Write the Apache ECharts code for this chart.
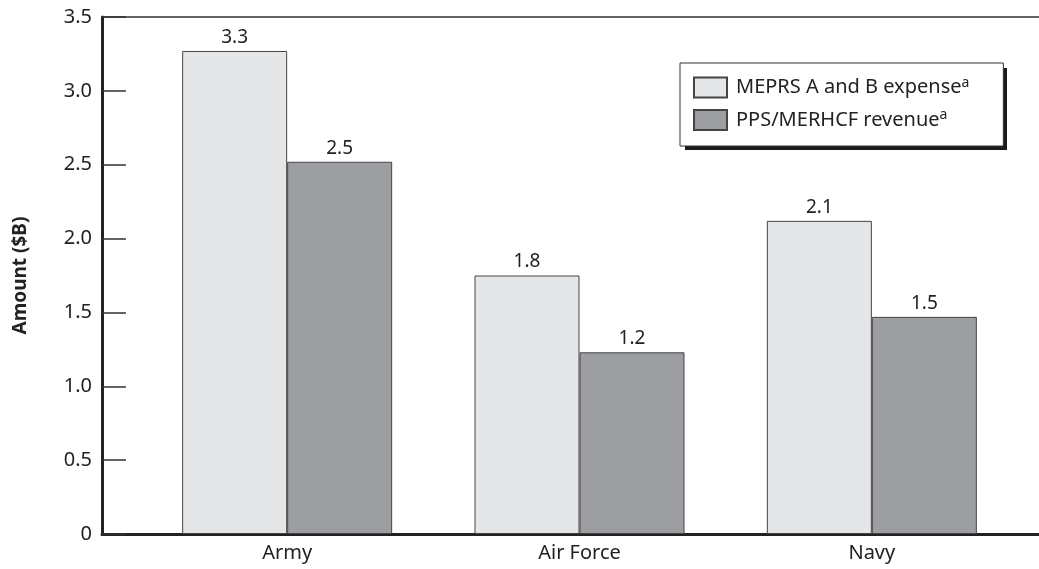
<!DOCTYPE html>
<html><head><meta charset="utf-8">
<script src="https://cdn.jsdelivr.net/npm/echarts@6/dist/echarts.min.js"></script>
<style>html,body{margin:0;padding:0;background:#fff}#c{width:1039px;height:569px}</style>
</head><body><div id="c"></div>
<script>
const categories = ['Army', 'Air Force', 'Navy'];
const expense = [3.27, 1.75, 2.12];
const revenue = [2.52, 1.23, 1.47];
const expenseLabels = ['3.3', '1.8', '2.1'];
const revenueLabels = ['2.5', '1.2', '1.5'];
const seriesNames = ['MEPRS A and B expense', 'PPS/MERHCF revenue'];

const FONT = '"Noto Sans", "Open Sans", sans-serif';
const chart = echarts.init(document.getElementById('c'));
const gridTop = 17, gridBottom = 35;
chart.setOption({
  animation: false,
  textStyle: { fontFamily: FONT },
  grid: [
    { left: 141, right: 21, top: gridTop, bottom: gridBottom, outerBoundsMode: 'none', containLabel: false },
    { left: 102, right: 0, top: gridTop, bottom: gridBottom, outerBoundsMode: 'none', containLabel: false }
  ],
  graphic: [
    { type: 'rect', z: 1, shape: { x: 685, y: 68, width: 322, height: 82 }, style: { fill: '#1a1a1a' } }
  ],
  legend: {
    orient: 'vertical', left: 680, top: 63,
    padding: [13, 34, 15, 13], itemGap: 10,
    itemWidth: 33, itemHeight: 20, icon: 'rect',
    backgroundColor: '#fff', borderColor: '#333', borderWidth: 1,
    textStyle: {
      fontFamily: FONT, fontSize: 20, color: '#222',
      rich: {
        n: { fontSize: 20, color: '#222', fontFamily: FONT, padding: [0, 0, 0, 4] },
        s: { fontSize: 14, color: '#222', verticalAlign: 'top', padding: [0, 0, 9, 0], fontFamily: FONT }
      }
    },
    formatter: n => '{n|' + n + '}{s|a}',
    data: seriesNames
  },
  xAxis: [
    { type: 'category', gridIndex: 0, data: categories,
      axisLine: { show: false }, axisTick: { show: false },
      axisLabel: { fontSize: 20, color: '#222', margin: 9, fontFamily: FONT } },
    { type: 'value', gridIndex: 1, position: 'bottom', min: 0, max: 1,
      axisLine: { show: true, lineStyle: { color: '#222', width: 3 } },
      axisTick: { show: false }, axisLabel: { show: false }, splitLine: { show: false } },
    { type: 'value', gridIndex: 1, position: 'top', min: 0, max: 1,
      axisLine: { show: true, lineStyle: { color: '#333', width: 1.5 } },
      axisTick: { show: false }, axisLabel: { show: false }, splitLine: { show: false } }
  ],
  yAxis: [
    { type: 'value', gridIndex: 0, min: 0, max: 3.5, interval: 0.5, show: false },
    { type: 'value', gridIndex: 1, min: 0, max: 3.5, interval: 0.5,
      name: 'Amount ($B)', nameLocation: 'middle', nameGap: 72, nameRotate: 90,
      nameTextStyle: { fontSize: 19, fontWeight: 'bold', color: '#222', fontFamily: FONT },
      axisLine: { show: true, lineStyle: { color: '#222', width: 3 } },
      axisTick: { show: true, inside: true, length: 24, lineStyle: { color: '#333', width: 1.5 } },
      axisLabel: { fontSize: 20, color: '#222', margin: 10, fontFamily: FONT,
        formatter: v => v === 0 ? '0' : v.toFixed(1) },
      splitLine: { show: false } }
  ],
  series: [
    { name: seriesNames[0], type: 'bar', xAxisIndex: 0, yAxisIndex: 0,
      data: expense, barWidth: 105, barGap: '0%',
      itemStyle: { color: '#e5e6e8', borderColor: '#444', borderWidth: 1 },
      label: { show: true, position: 'top', fontSize: 19, color: '#222', distance: 4, fontFamily: FONT,
        formatter: p => expenseLabels[p.dataIndex] } },
    { name: seriesNames[1], type: 'bar', xAxisIndex: 0, yAxisIndex: 0,
      data: revenue, barWidth: 105, barGap: '0%',
      itemStyle: { color: '#9d9ea2', borderColor: '#444', borderWidth: 1 },
      label: { show: true, position: 'top', fontSize: 19, color: '#222', distance: 4, fontFamily: FONT,
        formatter: p => revenueLabels[p.dataIndex] } }
  ]
});
</script></body></html>
